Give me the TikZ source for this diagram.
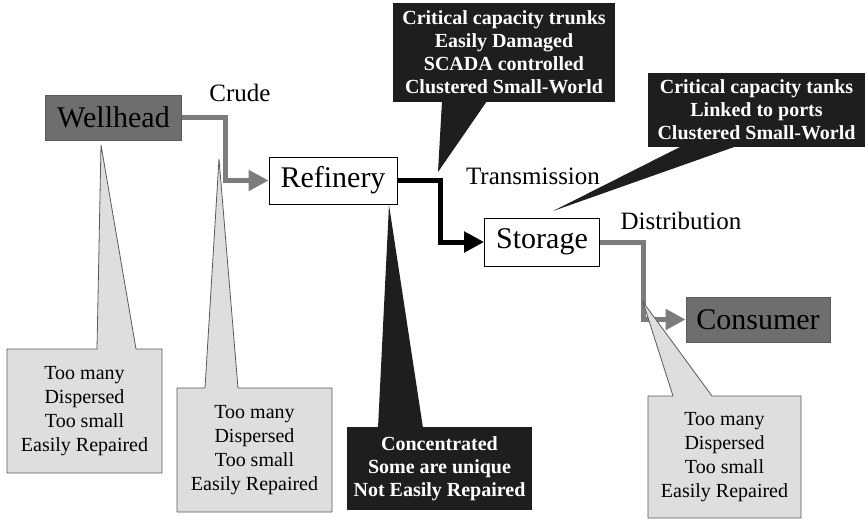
\documentclass[tikz,border=0pt]{standalone}
\usepackage{fontspec}
\setmainfont{Liberation Serif}
\usetikzlibrary{arrows.meta,calc}
\definecolor{boxgray}{HTML}{6E6E6E}
\definecolor{flowgray}{HTML}{7C7C7C}
\definecolor{notegray}{HTML}{DEDEDE}
\definecolor{noteline}{HTML}{5A5A5A}
\definecolor{notedark}{HTML}{1E1E1E}
\begin{document}
\begin{tikzpicture}[x=1pt,y=-1pt,
  stage/.style={draw=black, line width=0.8pt, fill=white, inner sep=0pt,
    font=\fontsize{30}{34}\selectfont},
  endpoint/.style={stage, fill=boxgray, draw=noteline},
  flowlabel/.style={inner sep=0pt, font=\fontsize{25}{28}\selectfont},
  darknote/.style={fill=notedark, text=white, inner sep=0pt, align=center,
    font=\bfseries\fontsize{20}{23}\selectfont},
  lightnote/.style={inner sep=0pt, align=center, font=\fontsize{20}{24}\selectfont},
  darktail/.style={fill=notedark},
  lighttail/.style={fill=notegray, draw=noteline, line width=0.8pt},
  pipe/.style={line width=5pt, -{Triangle[length=20pt,width=20pt]}},
]
\useasboundingbox (0,0) rectangle (866,521);
\fill[white] (0,0) rectangle (866,521);

% supply chain stages
\node[endpoint, minimum width=136pt, minimum height=45pt] (wellhead) at (113.5,117.5) {Wellhead};
\node[stage, minimum width=128pt, minimum height=47pt] (refinery) at (333,180.5) {Refinery};
\node[stage, minimum width=115pt, minimum height=48pt] (storage) at (542,242) {Storage};
\node[endpoint, minimum width=144pt, minimum height=45pt] (consumer) at (758,319.5) {Consumer};

% flow labels
\node[flowlabel] (crude) at (240,93) {Crude};
\node[flowlabel] (transmission) at (533,176) {Transmission};
\node[flowlabel] (distribution) at (681,221) {Distribution};

% bends of the pipes
\coordinate (crudeBend) at (225,150);
\coordinate (transBend) at (440,210);
\coordinate (distBend) at (643,280);

\draw[pipe, flowgray] (wellhead.east) -| (crudeBend) |- (refinery.west);
\draw[pipe, black] (refinery.east) -| (transBend) |- (storage.west);
\draw[pipe, flowgray] (storage.east) -| (distBend) |- (consumer.west);

% corners of the notes
\coordinate (trunksNW) at (393,3);    \coordinate (trunksSE) at (615,102);
\coordinate (tanksNW) at (648,73);    \coordinate (tanksSE) at (865,147);
\coordinate (concNW) at (347,427);    \coordinate (concSE) at (532,510);
\coordinate (wellNoteNW) at (7,349);  \coordinate (wellNoteSE) at (162,473);
\coordinate (crudeNoteNW) at (177,388); \coordinate (crudeNoteSE) at (332,512);
\coordinate (consNoteNW) at (648,396); \coordinate (consNoteSE) at (801,518);

% tips of the note pointers
\coordinate (trunksTip) at (438,172);
\coordinate (tanksTip) at (553,211);
\coordinate (concTip) at (389,205);
\coordinate (wellTip) at (101,145);
\coordinate (crudeTip) at (219,159);
\coordinate (consTip) at (643,302);

% dark notes: box and pointer
\fill[darktail] (trunksNW) rectangle (trunksSE);
\fill[darktail] (trunksNW |- trunksSE) ++(49,-1) -- (trunksTip) -- ($(trunksNW |- trunksSE)+(94,-1)$) -- cycle;
\fill[darktail] (tanksNW) rectangle (tanksSE);
\fill[darktail] (tanksNW |- tanksSE) ++(34,-1) -- (tanksTip) -- ($(tanksNW |- tanksSE)+(89,-1)$) -- cycle;
\fill[darktail] (concNW) rectangle (concSE);
\fill[darktail] (concNW) ++(31,1) -- (concTip) -- ($(concNW)+(76,1)$) -- cycle;

% light notes: one outline for box and pointer
\path[lighttail] (wellNoteNW) -- ++(90,0) -- (wellTip) -- ($(wellNoteNW)+(129,0)$)
  -- (wellNoteNW -| wellNoteSE) -- (wellNoteSE) -- (wellNoteNW |- wellNoteSE) -- cycle;
\path[lighttail] (crudeNoteNW) -- ++(28,0) -- (crudeTip) -- ($(crudeNoteNW)+(61,0)$)
  -- (crudeNoteNW -| crudeNoteSE) -- (crudeNoteSE) -- (crudeNoteNW |- crudeNoteSE) -- cycle;
\path[lighttail] (consNoteNW) -- ++(25,0) -- (consTip) -- ($(consNoteNW)+(64,0)$)
  -- (consNoteNW -| consNoteSE) -- (consNoteSE) -- (consNoteNW |- consNoteSE) -- cycle;

% note texts
\node[darknote] (trunks) at ($(trunksNW)!0.5!(trunksSE)$)
  {Critical capacity trunks\\Easily Damaged\\SCADA controlled\\Clustered Small-World};
\node[darknote] (tanks) at ($(tanksNW)!0.5!(tanksSE)$)
  {Critical capacity tanks\\Linked to ports\\Clustered Small-World};
\node[darknote] (conc) at ($(concNW)!0.5!(concSE)$)
  {Concentrated\\Some are unique\\Not Easily Repaired};
\node[lightnote] (wellNote) at ($(wellNoteNW)!0.5!(wellNoteSE)$)
  {Too many\\Dispersed\\Too small\\Easily Repaired};
\node[lightnote] (crudeNote) at ($(crudeNoteNW)!0.5!(crudeNoteSE)$)
  {Too many\\Dispersed\\Too small\\Easily Repaired};
\node[lightnote] (consNote) at ($(consNoteNW)!0.5!(consNoteSE)$)
  {Too many\\Dispersed\\Too small\\Easily Repaired};
\end{tikzpicture}
\end{document}
